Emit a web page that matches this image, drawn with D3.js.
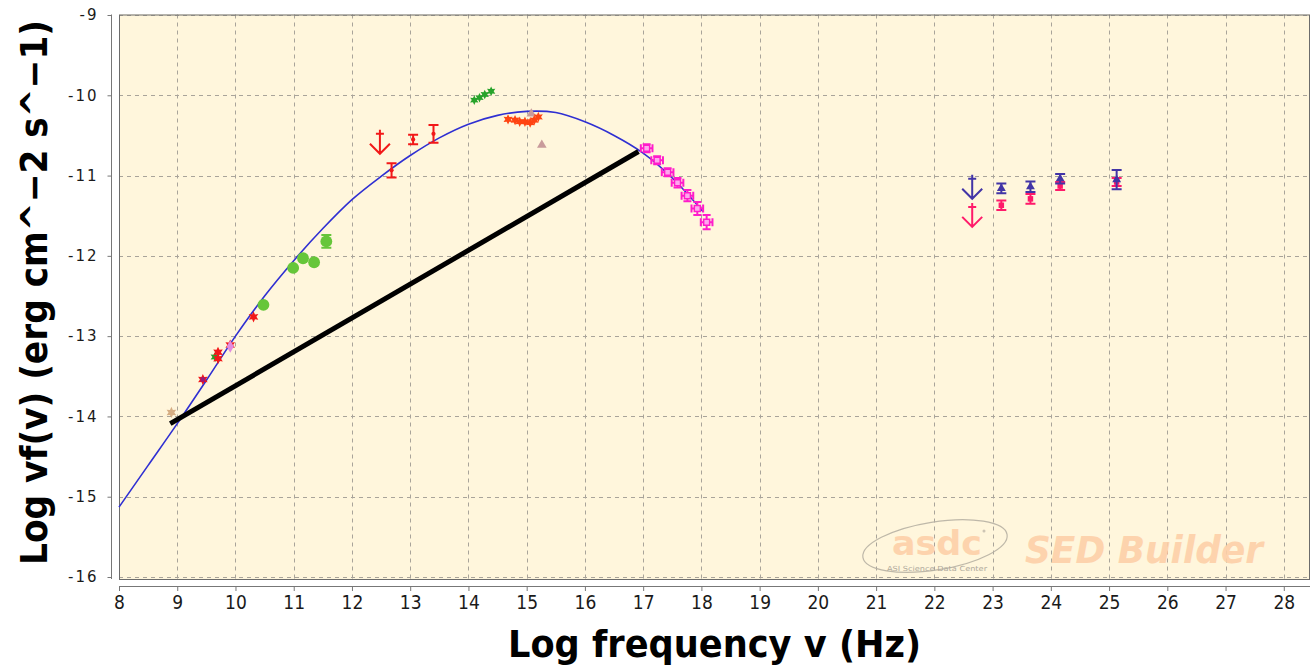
<!DOCTYPE html>
<html>
<head>
<meta charset="utf-8">
<script src="https://cdn.jsdelivr.net/npm/d3@7/dist/d3.min.js"></script>
<style>
  html, body { margin: 0; padding: 0; background: #ffffff; }
  svg { display: block; }
</style>
</head>
<body>
<svg id="chart" width="1313" height="666"></svg>
<script>
// ---- Axis ticks --------------------------------------------------------
const xTickValues = [8, 9, 10, 11, 12, 13, 14, 15, 16, 17, 18, 19, 20, 21, 22, 23, 24, 25, 26, 27, 28];
const yTickValues = [-16, -15, -14, -13, -12, -11, -10, -9];

// ---- Model curve: [log nu, log nu F_nu] -------------------------------
const modelCurve = [
  [8.00, -15.13], [8.50, -14.61], [9.00, -14.09], [9.50, -13.55], [10.00, -13.00],
  [10.50, -12.50], [11.00, -12.06], [11.50, -11.66], [12.00, -11.30], [12.50, -11.01],
  [13.00, -10.75], [13.50, -10.53], [14.00, -10.36], [14.50, -10.25], [15.00, -10.20],
  [15.50, -10.215], [16.00, -10.33], [16.50, -10.50], [17.00, -10.72], [17.50, -11.03],
  [18.03, -11.45]
];

// ---- Straight segment drawn across the SED ----------------------------
const chordLine = [[8.88, -14.09], [16.92, -10.70]];

// ---- Radio / mm photometry --------------------------------------------
const radioTan = [[8.90, -13.95]];
const radioRed = [[9.44, -13.54], [9.70, -13.20], [9.70, -13.28], [9.91, -13.11], [10.31, -12.76]];
const radioPurple = [[9.44, -13.54]];
const radioGreen = [[9.65, -13.26]];
const radioViolet = [[9.91, -13.13]];

// ---- mm circles: [x, y, yErr] -----------------------------------------
const mmCircles = [[10.48, -12.61, 0], [10.99, -12.15, 0], [11.16, -12.03, 0], [11.35, -12.08, 0], [11.56, -11.82, 0.08]];

// ---- Infrared points with errors: [x, y, yErr] ------------------------
const irPoints = [[12.68, -10.935, 0.09], [13.05, -10.55, 0.06], [13.40, -10.48, 0.11]];
const irUpperLimit = [[12.48, -10.48]];

// ---- Optical / UV ----------------------------------------------------
const opticalGreen = [[14.10, -10.06], [14.19, -10.03], [14.28, -9.99], [14.39, -9.95]];
const opticalOrange = [[14.68, -10.30], [14.80, -10.31], [14.88, -10.33], [14.97, -10.33], [15.06, -10.34], [15.13, -10.31], [15.20, -10.27]];
const uvRosy = [[15.08, -10.23], [15.26, -10.62]];

// ---- X-ray spectrum: [x, y, xErr, yErr] -------------------------------
const xraySpectrum = [
  [17.06, -10.66, 0.10, 0.05], [17.24, -10.81, 0.10, 0.05], [17.42, -10.96, 0.10, 0.05],
  [17.59, -11.09, 0.10, 0.06], [17.76, -11.25, 0.10, 0.07], [17.93, -11.41, 0.10, 0.08],
  [18.09, -11.58, 0.10, 0.09]
];

// ---- Gamma-ray (two catalogues): [x, y, yErr] --------------------------
const gammaIndigo = [[23.15, -11.16, 0.06], [23.65, -11.14, 0.065], [24.16, -11.04, 0.06], [25.13, -11.05, 0.12]];
const gammaIndigoLimit = [[22.65, -11.04]];
const gammaPink = [[23.15, -11.37, 0.06], [23.65, -11.29, 0.06], [24.16, -11.13, 0.05], [25.13, -11.08, 0.05]];
const gammaPinkLimit = [[22.65, -11.39]];

// ---- Layout -----------------------------------------------------------
const svg = d3.select("#chart");
const x = d3.scaleLinear().domain([8, 28.45]).range([119, 1310]);
const y = d3.scaleLinear().domain([-16, -9]).range([577, 15]);

const plotLeft = x(8), plotRight = x(28.45);
const plotTop = y(-9) - 0.5, plotBottom = y(-16) + 2;

// Plot background
svg.append("rect")
  .attr("x", plotLeft).attr("y", plotTop)
  .attr("width", plotRight - plotLeft).attr("height", plotBottom - plotTop)
  .attr("fill", "#fff6dc");

// Dashed grid
const grid = svg.append("g").attr("stroke", "#a9a49a").attr("stroke-width", 1).attr("stroke-dasharray", "4,4");
grid.selectAll("line.v").data(xTickValues.filter(d => d > 8)).join("line")
  .attr("class", "v")
  .attr("x1", d => Math.round(x(d)) + 0.5).attr("x2", d => Math.round(x(d)) + 0.5)
  .attr("y1", plotTop).attr("y2", plotBottom);
grid.selectAll("line.h").data(yTickValues).join("line")
  .attr("class", "h")
  .attr("x1", plotLeft).attr("x2", plotRight)
  .attr("y1", d => Math.round(y(d)) + 0.5).attr("y2", d => Math.round(y(d)) + 0.5);

// Watermark
const wm = svg.append("g").attr("opacity", 0.9);
wm.append("ellipse")
  .attr("cx", 935).attr("cy", 546).attr("rx", 73).attr("ry", 24)
  .attr("transform", "rotate(-9 935 546)")
  .attr("fill", "none").attr("stroke", "#b8b2a4").attr("stroke-width", 1.2);
wm.append("text")
  .attr("x", 892).attr("y", 555)
  .attr("font-family", "DejaVu Sans, sans-serif").attr("font-weight", "bold")
  .attr("font-size", 34).attr("fill", "#fdd0a8")
  .attr("textLength", 90).attr("lengthAdjust", "spacingAndGlyphs")
  .text("asdc");
wm.append("circle").attr("cx", 984).attr("cy", 531).attr("r", 1.5).attr("fill", "#c8c0b0");
wm.append("text")
  .attr("x", 887).attr("y", 571)
  .attr("font-family", "DejaVu Sans Condensed, sans-serif")
  .attr("font-size", 7).attr("fill", "#a8a296")
  .attr("textLength", 100).attr("lengthAdjust", "spacingAndGlyphs")
  .text("ASI Science Data Center");
wm.append("text")
  .attr("x", 1025).attr("y", 563)
  .attr("font-family", "DejaVu Sans, sans-serif").attr("font-weight", "bold").attr("font-style", "italic")
  .attr("font-size", 37).attr("fill", "#fdd0a8")
  .attr("textLength", 238).attr("lengthAdjust", "spacingAndGlyphs")
  .text("SED Builder");

// Plot frame
svg.append("rect")
  .attr("x", plotLeft + 0.5).attr("y", plotTop + 0.5)
  .attr("width", plotRight - plotLeft - 1).attr("height", plotBottom - plotTop)
  .attr("fill", "none").attr("stroke", "#6c6c6c").attr("stroke-width", 1);

// Axes (offset from the plot frame)
const xAxisY = plotBottom + 7;
const xAxis = d3.axisBottom(x).tickValues(xTickValues).tickSize(5).tickPadding(5).tickFormat(d3.format("d"));
const gx = svg.append("g").attr("transform", `translate(0,${xAxisY})`).call(xAxis);
gx.select(".domain").attr("stroke", "#777").attr("d", `M${plotLeft},0.5H${plotRight}`);
gx.selectAll(".tick line").attr("stroke", "#777");
gx.selectAll(".tick text")
  .attr("font-family", "DejaVu Sans Condensed, sans-serif")
  .attr("font-size", 19).attr("fill", "#1a1a1a");

const yAxisX = plotLeft - 7.5;
const yAxis = d3.axisLeft(y).tickValues(yTickValues).tickSize(4).tickPadding(9).tickFormat(d => "-" + Math.abs(d));
const gy = svg.append("g").attr("transform", `translate(${yAxisX},0)`).call(yAxis);
gy.select(".domain").attr("stroke", "#777").attr("d", `M0,${plotTop}V${plotBottom}`);
gy.selectAll(".tick line").attr("stroke", "#777");
gy.selectAll(".tick text")
  .attr("font-family", "DejaVu Sans, sans-serif")
  .attr("font-size", 15).attr("letter-spacing", 2).attr("fill", "#1a1a1a");

// Axis titles
svg.append("text")
  .attr("x", 714.5).attr("y", 657).attr("text-anchor", "middle")
  .attr("font-family", "DejaVu Sans Condensed, DejaVu Sans, sans-serif").attr("font-weight", "bold")
  .attr("font-size", 38).attr("fill", "#000")
  .attr("textLength", 413).attr("lengthAdjust", "spacingAndGlyphs")
  .text("Log frequency v (Hz)");
svg.append("text")
  .attr("transform", "translate(47,292.5) rotate(-90)").attr("text-anchor", "middle")
  .attr("font-family", "DejaVu Sans Condensed, DejaVu Sans, sans-serif").attr("font-weight", "bold")
  .attr("font-size", 38).attr("fill", "#000")
  .attr("textLength", 545).attr("lengthAdjust", "spacingAndGlyphs")
  .text("Log vf(v) (erg cm^\u22122 s^\u22121)");

// ---- Marks --------------------------------------------------------------
const plot = svg.append("g");

// Model curve
const line = d3.line().x(d => x(d[0])).y(d => y(d[1])).curve(d3.curveCatmullRom.alpha(0.5));
plot.append("path").datum(modelCurve)
  .attr("d", line).attr("fill", "none")
  .attr("stroke", "#2f2fd2").attr("stroke-width", 1.6);

// Six-pointed star marker
const symbolStar6 = {
  draw(ctx, size) {
    const r = Math.sqrt(size) * 0.62, ri = r * 0.52;
    for (let i = 0; i < 12; i++) {
      const a = -Math.PI / 2 + i * Math.PI / 6;
      const rr = i % 2 ? ri : r;
      if (i === 0) ctx.moveTo(rr * Math.cos(a), rr * Math.sin(a));
      else ctx.lineTo(rr * Math.cos(a), rr * Math.sin(a));
    }
    ctx.closePath();
  }
};

function markers(data, type, size, fill, stroke, sw) {
  plot.append("g").selectAll("path").data(data).join("path")
    .attr("transform", d => `translate(${x(d[0])},${y(d[1])})`)
    .attr("d", d3.symbol(type, size))
    .attr("fill", fill)
    .attr("stroke", stroke || "none")
    .attr("stroke-width", sw || 0);
}

function yErrorBars(data, color, cap, width) {
  const g = plot.append("g").attr("stroke", color).attr("stroke-width", width).attr("fill", "none");
  g.selectAll("path").data(data.filter(d => d[2] > 0)).join("path")
    .attr("d", d => {
      const cx = x(d[0]), y0 = y(d[1] - d[2]), y1 = y(d[1] + d[2]);
      return `M${cx},${y0}V${y1}M${cx - cap},${y0}H${cx + cap}M${cx - cap},${y1}H${cx + cap}`;
    });
}

function upperLimits(data, color) {
  plot.append("g").attr("stroke", color).attr("stroke-width", 2).attr("fill", "none")
    .selectAll("path").data(data).join("path")
    .attr("d", d => {
      const cx = x(d[0]), cy = y(d[1]);
      return `M${cx},${cy - 4}V${cy + 20}M${cx - 4},${cy}H${cx + 4}` +
             `M${cx - 10},${cy + 10}L${cx},${cy + 20}L${cx + 10},${cy + 10}`;
    });
}

// Radio
markers(radioTan, symbolStar6, 80, "#d6ae84");
markers(radioGreen, symbolStar6, 70, "#22a52a");
markers(radioRed, symbolStar6, 80, "#f21818");
markers(radioPurple, d3.symbolSquare, 20, "#9a1a7a");
markers(radioViolet, d3.symbolDiamond, 45, "#e28be0");

// mm circles
yErrorBars(mmCircles, "#66c63a", 5, 2);
markers(mmCircles, d3.symbolCircle, 110, "#66c63a");

// Infrared
yErrorBars(irPoints, "#f21818", 5, 2);
markers(irPoints, d3.symbolCircle, 14, "#f21818");
upperLimits(irUpperLimit, "#f21818");

// Optical / UV
markers(opticalGreen, symbolStar6, 60, "#27a32a");
markers(uvRosy, d3.symbolTriangle, 40, "#c99b9b");
markers(opticalOrange, symbolStar6, 70, "#ff4412");

// X-ray spectrum
const xr = plot.append("g").attr("stroke", "#ff1ccb").attr("stroke-width", 2).attr("fill", "none");
xr.selectAll("path").data(xraySpectrum).join("path")
  .attr("d", d => {
    const cx = x(d[0]), cy = y(d[1]);
    const x0 = x(d[0] - d[2]), x1 = x(d[0] + d[2]);
    const y0 = y(d[1] - d[3]), y1 = y(d[1] + d[3]);
    return `M${x0},${cy}H${x1}M${x0},${cy - 4}V${cy + 4}M${x1},${cy - 4}V${cy + 4}` +
           `M${cx},${y0}V${y1}M${cx - 4},${y0}H${cx + 4}M${cx - 4},${y1}H${cx + 4}`;
  });
markers(xraySpectrum, d3.symbolSquare, 36, "#ffa6ee", "#ff1ccb", 1.5);

// Gamma rays
yErrorBars(gammaPink, "#ff1a6a", 5, 2);
markers(gammaPink, d3.symbolSquare, 30, "#ff1a6a");
upperLimits(gammaPinkLimit, "#ff1a6a");
yErrorBars(gammaIndigo, "#4234a6", 5, 2);
markers(gammaIndigo, d3.symbolTriangle, 34, "#4234a6");
upperLimits(gammaIndigoLimit, "#4234a6");

// Straight segment
plot.append("path").datum(chordLine)
  .attr("d", d3.line().x(d => x(d[0])).y(d => y(d[1])))
  .attr("fill", "none").attr("stroke", "#000").attr("stroke-width", 5);
</script>
</body>
</html>
